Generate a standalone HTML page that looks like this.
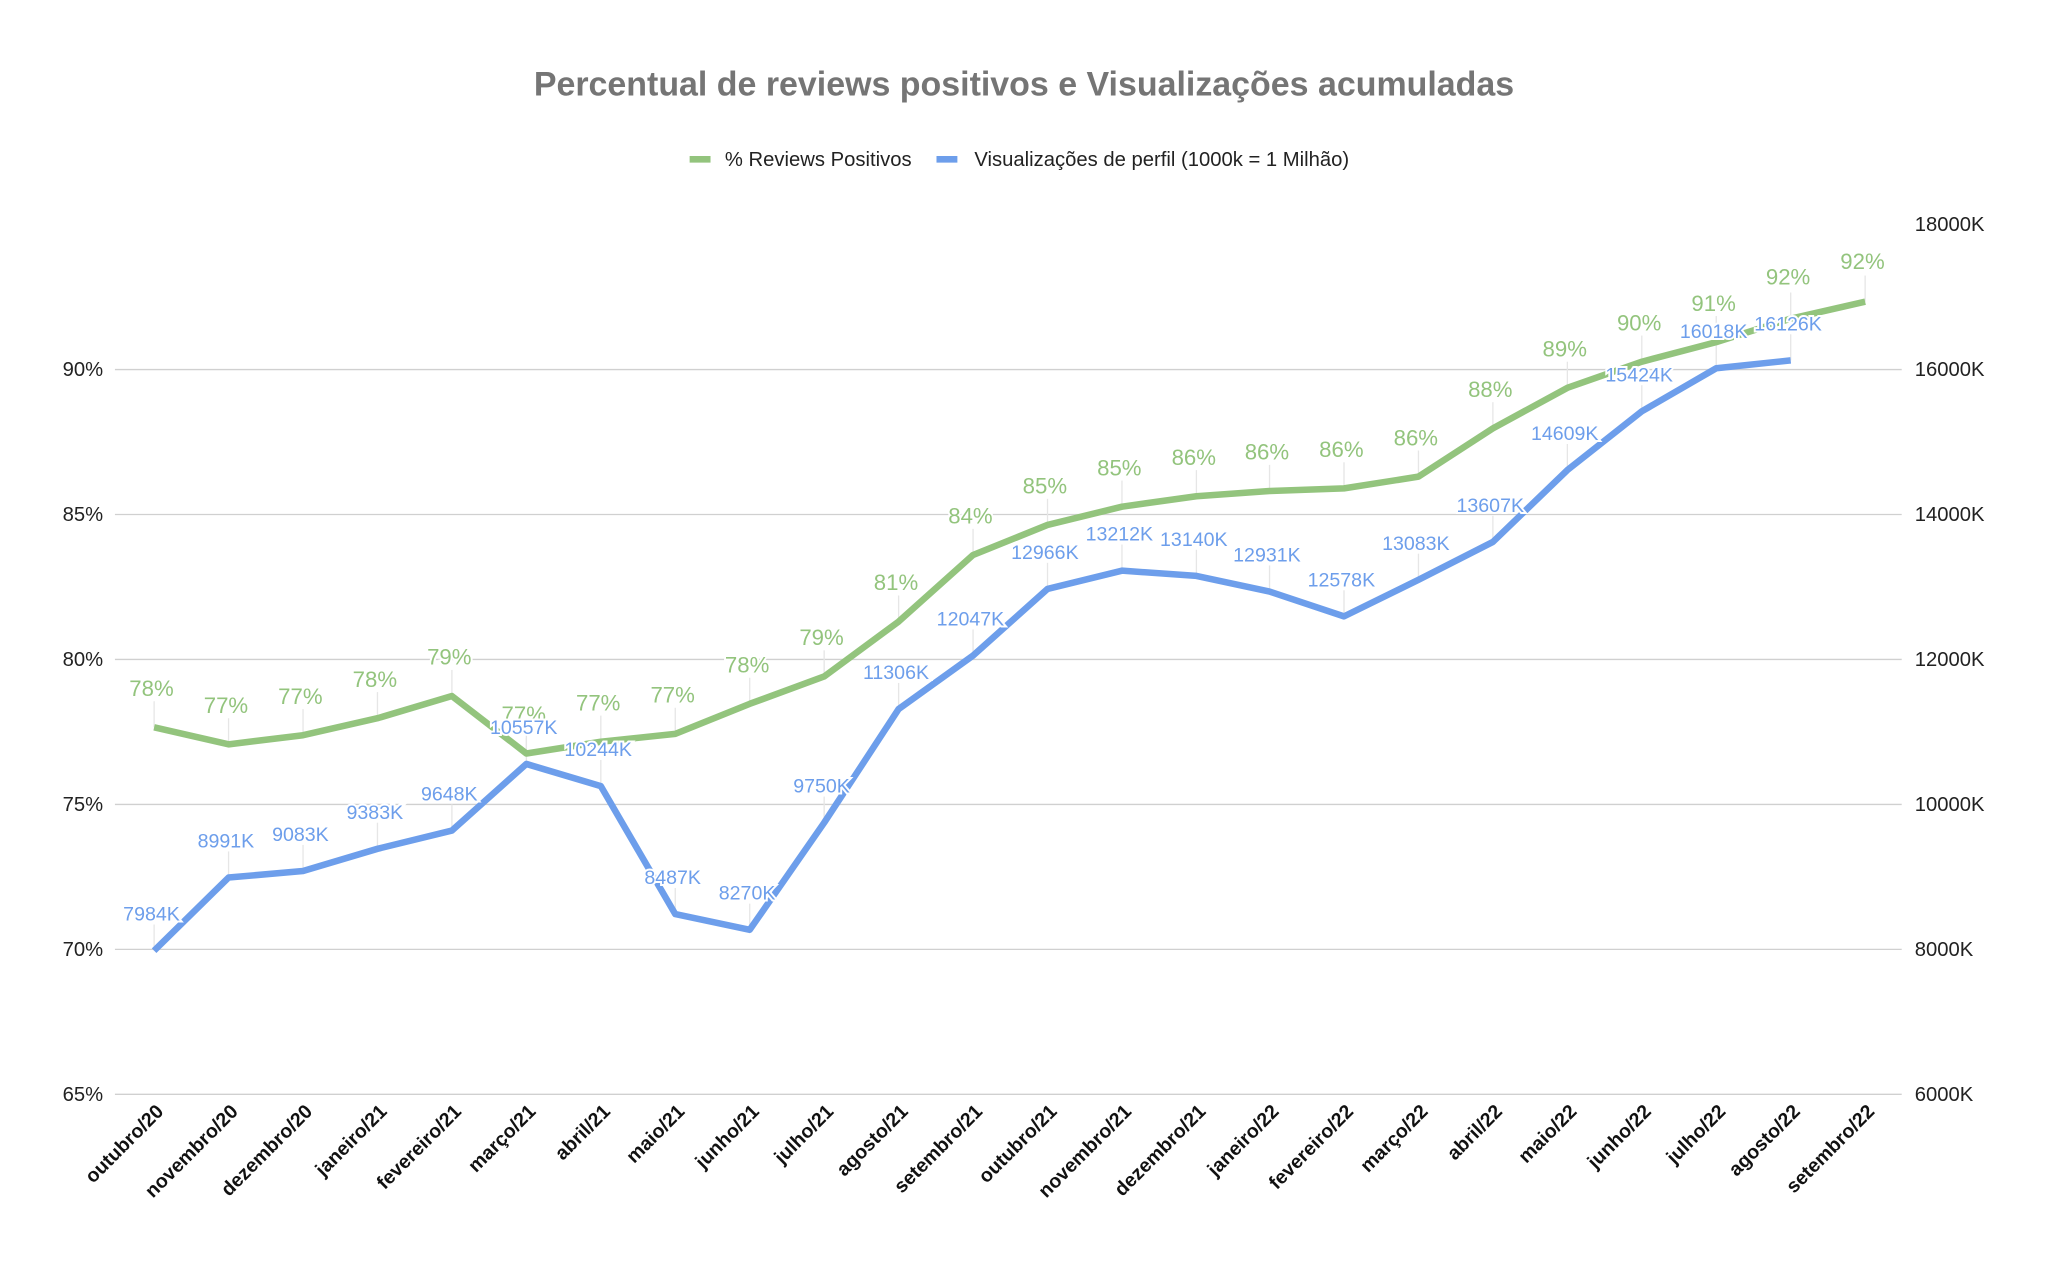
<!DOCTYPE html>
<html><head><meta charset="utf-8"><style>
html,body{margin:0;padding:0;background:#fff;}
svg{display:block;font-family:"Liberation Sans",Arial,sans-serif;}
.gl{stroke:#d0d0d0;stroke-width:1;}
.ax{font-size:15.5px;fill:#222;}
.xl{font-size:15px;font-weight:bold;fill:#111;}
.g{font-size:17px;fill:#93c47d;text-anchor:middle;stroke:#fff;stroke-width:3;paint-order:stroke;}
.b{font-size:15px;fill:#6d9eeb;text-anchor:middle;stroke:#fff;stroke-width:3;paint-order:stroke;}
.ld{stroke:#e6e6e6;stroke-width:1;}
</style></head><body>
<svg width="2048" height="1268" viewBox="0 0 1568 971" preserveAspectRatio="none">
<rect width="1568" height="971" fill="#fff"/>
<text x="784" y="73" text-anchor="middle" font-size="26" font-weight="bold" fill="#757575">Percentual de reviews positivos e Visualizações acumuladas</text>
<line x1="528" y1="122" x2="544" y2="122" stroke="#93c47d" stroke-width="5"/>
<text x="555" y="127" font-size="15.5" fill="#222">% Reviews Positivos</text>
<line x1="717" y1="122" x2="733" y2="122" stroke="#6d9eeb" stroke-width="5"/>
<text x="746" y="127" font-size="15.5" fill="#222">Visualizações de perfil (1000k = 1 Milhão)</text>

<g class="gl">
<line x1="88" y1="283" x2="1456" y2="283"/>
<line x1="88" y1="394" x2="1456" y2="394"/>
<line x1="88" y1="505" x2="1456" y2="505"/>
<line x1="88" y1="616" x2="1456" y2="616"/>
<line x1="88" y1="727" x2="1456" y2="727"/>
<line x1="88" y1="838" x2="1456" y2="838"/>
</g>
<g class="ax" text-anchor="end">
<text x="79" y="288">90%</text><text x="79" y="399">85%</text><text x="79" y="510">80%</text>
<text x="79" y="621">75%</text><text x="79" y="732">70%</text><text x="79" y="843">65%</text>
</g>
<g class="ax">
<text x="1466" y="177">18000K</text><text x="1466" y="288">16000K</text><text x="1466" y="399">14000K</text>
<text x="1466" y="510">12000K</text><text x="1466" y="621">10000K</text><text x="1466" y="732">8000K</text><text x="1466" y="843">6000K</text>
</g>

<g class="xl" text-anchor="end">
<text transform="translate(126,852) rotate(-45)">outubro/20</text>
<text transform="translate(183,852) rotate(-45)">novembro/20</text>
<text transform="translate(240,852) rotate(-45)">dezembro/20</text>
<text transform="translate(297,852) rotate(-45)">janeiro/21</text>
<text transform="translate(354,852) rotate(-45)">fevereiro/21</text>
<text transform="translate(411,852) rotate(-45)">março/21</text>
<text transform="translate(468,852) rotate(-45)">abril/21</text>
<text transform="translate(525,852) rotate(-45)">maio/21</text>
<text transform="translate(582,852) rotate(-45)">junho/21</text>
<text transform="translate(639,852) rotate(-45)">julho/21</text>
<text transform="translate(696,852) rotate(-45)">agosto/21</text>
<text transform="translate(753,852) rotate(-45)">setembro/21</text>
<text transform="translate(810,852) rotate(-45)">outubro/21</text>
<text transform="translate(867,852) rotate(-45)">novembro/21</text>
<text transform="translate(924,852) rotate(-45)">dezembro/21</text>
<text transform="translate(980,852) rotate(-45)">janeiro/22</text>
<text transform="translate(1037,852) rotate(-45)">fevereiro/22</text>
<text transform="translate(1094,852) rotate(-45)">março/22</text>
<text transform="translate(1151,852) rotate(-45)">abril/22</text>
<text transform="translate(1208,852) rotate(-45)">maio/22</text>
<text transform="translate(1265,852) rotate(-45)">junho/22</text>
<text transform="translate(1322,852) rotate(-45)">julho/22</text>
<text transform="translate(1379,852) rotate(-45)">agosto/22</text>
<text transform="translate(1436,852) rotate(-45)">setembro/22</text>
</g>

<g class="ld">
<line x1="118" y1="537" x2="118" y2="557"/><line x1="175" y1="550" x2="175" y2="570"/><line x1="232" y1="543" x2="232" y2="563"/><line x1="289" y1="530" x2="289" y2="550"/><line x1="346" y1="513" x2="346" y2="533"/><line x1="403" y1="557" x2="403" y2="577"/><line x1="460" y1="548" x2="460" y2="568"/><line x1="517" y1="542" x2="517" y2="562"/><line x1="574" y1="519" x2="574" y2="539"/><line x1="631" y1="498" x2="631" y2="518"/><line x1="688" y1="456" x2="688" y2="476"/><line x1="745" y1="405" x2="745" y2="425"/><line x1="802" y1="382" x2="802" y2="402"/><line x1="859" y1="368" x2="859" y2="388"/><line x1="916" y1="360" x2="916" y2="380"/><line x1="972" y1="356" x2="972" y2="376"/><line x1="1029" y1="354" x2="1029" y2="374"/><line x1="1086" y1="345" x2="1086" y2="365"/><line x1="1143" y1="308" x2="1143" y2="328"/><line x1="1200" y1="277" x2="1200" y2="297"/><line x1="1257" y1="257" x2="1257" y2="277"/><line x1="1314" y1="242" x2="1314" y2="262"/><line x1="1371" y1="224" x2="1371" y2="244"/><line x1="1428" y1="211" x2="1428" y2="231"/>
<line x1="118" y1="708" x2="118" y2="728"/><line x1="175" y1="652" x2="175" y2="672"/><line x1="232" y1="647" x2="232" y2="667"/><line x1="289" y1="630" x2="289" y2="650"/><line x1="346" y1="616" x2="346" y2="636"/><line x1="403" y1="565" x2="403" y2="585"/><line x1="460" y1="582" x2="460" y2="602"/><line x1="517" y1="680" x2="517" y2="700"/><line x1="574" y1="692" x2="574" y2="712"/><line x1="631" y1="610" x2="631" y2="630"/><line x1="688" y1="523" x2="688" y2="543"/><line x1="745" y1="482" x2="745" y2="502"/><line x1="802" y1="431" x2="802" y2="451"/><line x1="859" y1="417" x2="859" y2="437"/><line x1="916" y1="421" x2="916" y2="441"/><line x1="972" y1="433" x2="972" y2="453"/><line x1="1029" y1="452" x2="1029" y2="472"/><line x1="1086" y1="424" x2="1086" y2="444"/><line x1="1143" y1="395" x2="1143" y2="415"/><line x1="1200" y1="340" x2="1200" y2="360"/><line x1="1257" y1="295" x2="1257" y2="315"/><line x1="1314" y1="262" x2="1314" y2="282"/><line x1="1371" y1="256" x2="1371" y2="276"/>
</g>

<polyline fill="none" stroke="#93c47d" stroke-width="5" stroke-linejoin="round" points="118,557 175,570 232,563 289,550 346,533 403,577 460,568 517,562 574,539 631,518 688,476 745,425 802,402 859,388 916,380 972,376 1029,374 1086,365 1143,328 1200,297 1257,277 1314,262 1371,244 1428,231"/>
<polyline fill="none" stroke="#6d9eeb" stroke-width="5" stroke-linejoin="round" points="118,728 175,672 232,667 289,650 346,636 403,585 460,602 517,700 574,712 631,630 688,543 745,502 802,451 859,437 916,441 972,453 1029,472 1086,444 1143,415 1200,360 1257,315 1314,282 1371,276"/>

<g class="g">
<text x="116" y="533">78%</text><text x="173" y="546">77%</text><text x="230" y="539">77%</text><text x="287" y="526">78%</text><text x="344" y="509">79%</text><text x="401" y="553">77%</text><text x="458" y="544">77%</text><text x="515" y="538">77%</text><text x="572" y="515">78%</text><text x="629" y="494">79%</text><text x="686" y="452">81%</text><text x="743" y="401">84%</text><text x="800" y="378">85%</text><text x="857" y="364">85%</text><text x="914" y="356">86%</text><text x="970" y="352">86%</text><text x="1027" y="350">86%</text><text x="1084" y="341">86%</text><text x="1141" y="304">88%</text><text x="1198" y="273">89%</text><text x="1255" y="253">90%</text><text x="1312" y="238">91%</text><text x="1369" y="218">92%</text><text x="1426" y="206">92%</text>
</g>
<g class="b">
<text x="116" y="705">7984K</text><text x="173" y="649">8991K</text><text x="230" y="644">9083K</text><text x="287" y="627">9383K</text><text x="344" y="613">9648K</text><text x="401" y="562">10557K</text><text x="458" y="579">10244K</text><text x="515" y="677">8487K</text><text x="572" y="689">8270K</text><text x="629" y="607">9750K</text><text x="686" y="520">11306K</text><text x="743" y="479">12047K</text><text x="800" y="428">12966K</text><text x="857" y="414">13212K</text><text x="914" y="418">13140K</text><text x="970" y="430">12931K</text><text x="1027" y="449">12578K</text><text x="1084" y="421">13083K</text><text x="1141" y="392">13607K</text><text x="1198" y="337">14609K</text><text x="1255" y="292">15424K</text><text x="1312" y="259">16018K</text><text x="1369" y="253">16126K</text>
</g>
</svg>
</body></html>
